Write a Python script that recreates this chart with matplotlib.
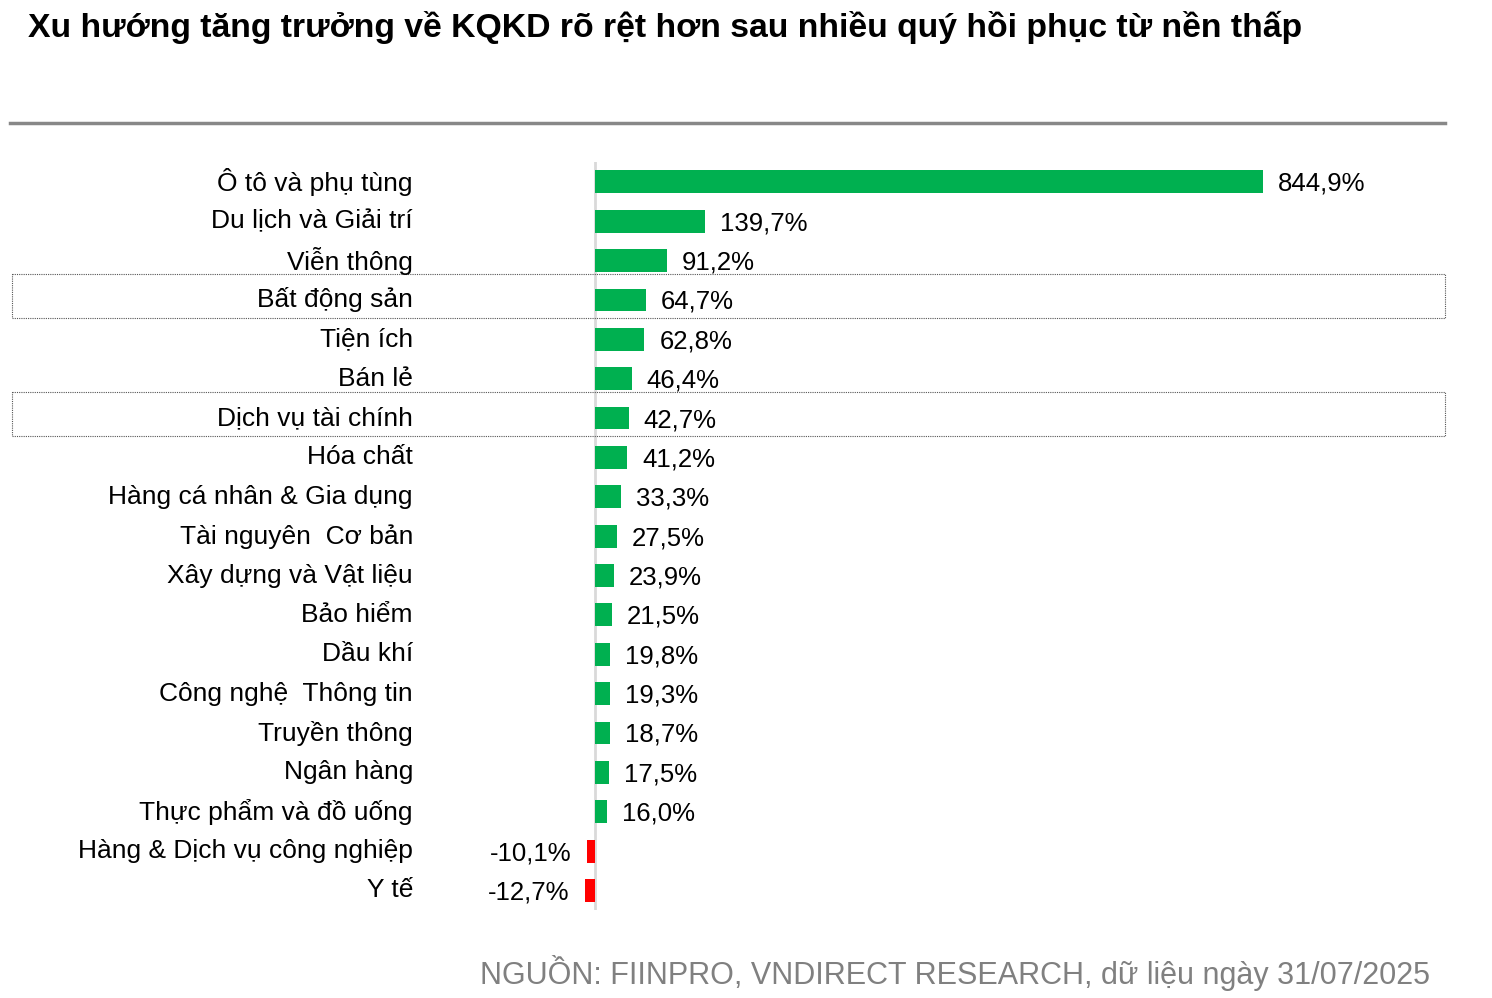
import matplotlib.pyplot as plt
from matplotlib.patches import Rectangle

plt.rcParams['font.family'] = ['Liberation Sans', 'DejaVu Sans']

sectors = ["Ô tô và phụ tùng", "Du lịch và Giải trí", "Viễn thông", "Bất động sản",
           "Tiện ích", "Bán lẻ", "Dịch vụ tài chính", "Hóa chất",
           "Hàng cá nhân & Gia dụng", "Tài nguyên  Cơ bản", "Xây dựng và Vật liệu",
           "Bảo hiểm", "Dầu khí", "Công nghệ  Thông tin", "Truyền thông",
           "Ngân hàng", "Thực phẩm và đồ uống", "Hàng & Dịch vụ công nghiệp", "Y tế"]
growth = [844.9, 139.7, 91.2, 64.7, 62.8, 46.4, 42.7, 41.2, 33.3, 27.5, 23.9,
          21.5, 19.8, 19.3, 18.7, 17.5, 16.0, -10.1, -12.7]
boxed = ["Bất động sản", "Dịch vụ tài chính"]

title = "Xu hướng tăng trưởng về KQKD rõ rệt hơn sau nhiều quý hồi phục từ nền thấp"
source = "NGUỒN: FIINPRO, VNDIRECT RESEARCH, dữ liệu ngày 31/07/2025"

fig = plt.figure(figsize=(14.92, 9.98), dpi=100)
ax = fig.add_axes([0.008, 0.088, 0.9605, 0.7495])

ypos = list(range(len(sectors)))
colors = ["#00B050" if v >= 0 else "#FF0000" for v in growth]
ax.barh(ypos, growth, height=0.58, color=colors, zorder=2)

ax.set_xlim(-737, 1075)
ax.set_ylim(18.5, -0.5)
ax.axvline(0, color="#d9d9d9", lw=2, zorder=1)

for y, v, name in zip(ypos, growth, sectors):
    txt = f"{v:.1f}".replace(".", ",") + "%"
    if v >= 0:
        ax.text(v + 19, y + 0.05, txt, ha="left", va="center", fontsize=18.5)
    else:
        ax.text(v - 19, y + 0.05, txt, ha="right", va="center", fontsize=18.5)
    ax.text(-230, y, name, ha="right", va="center", fontsize=19)
    if name in boxed:
        ax.add_patch(Rectangle((0, y - 0.66), 1, 1.11, transform=ax.get_yaxis_transform(),
                               fill=False, ec="#555555", lw=0.8, ls=(0, (1, 1)),
                               clip_on=False))

for s in ax.spines.values():
    s.set_visible(False)
ax.set_xticks([])
ax.set_yticks([])

fig.text(28 / 1492, 1 - 27 / 998, title, fontsize=24.3, fontweight="bold",
         ha="left", va="center")
fig.add_artist(plt.Line2D([10 / 1492, 1445 / 1492], [1 - 123 / 998] * 2,
                          color="#888888", lw=2.5))
fig.text(1430 / 1492, 1 - 973 / 998, source, fontsize=22, color="#808080",
         ha="right", va="center")

fig.savefig("out.png", dpi=100)
